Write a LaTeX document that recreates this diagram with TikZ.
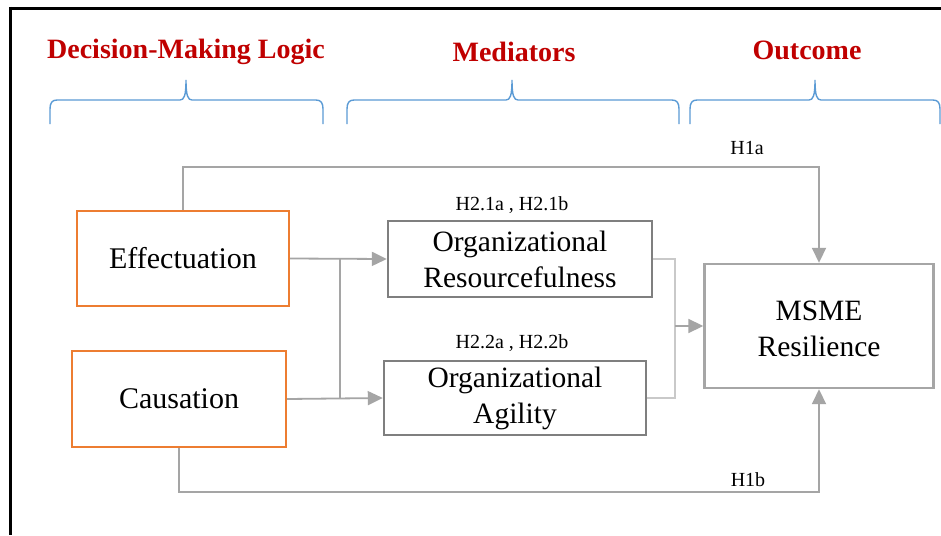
\documentclass[tikz,border=0pt]{standalone}
\usepackage{fontspec}
\setmainfont{Liberation Serif}
\usetikzlibrary{arrows.meta}
\definecolor{titlered}{HTML}{C00000}
\definecolor{braceblue}{HTML}{5B9BD5}
\definecolor{boxorange}{HTML}{ED7D31}
\definecolor{boxgray}{HTML}{7F7F7F}
\definecolor{outgray}{HTML}{A6A6A6}
\definecolor{linkgray}{HTML}{A5A5A5}
\definecolor{lightlink}{HTML}{C9C9C9}
\newcommand\groupbrace[3]{%
  \draw[bracestyle] (#1,124) -- (#1,109)
    .. controls (#1,103) and ({#1+2},100) .. ({#1+7},100)
    -- ({#3-6},100) .. controls ({#3-2},100) and (#3,96) .. (#3,80)
    .. controls (#3,96) and ({#3+2},100) .. ({#3+6},100)
    -- ({#2-7},100) .. controls ({#2-2},100) and (#2,103) .. (#2,109)
    -- (#2,124);}
\begin{document}
\begin{tikzpicture}[x=1pt,y=-1pt,
  title/.style={text=titlered,font=\fontsize{28}{30}\selectfont\bfseries},
  bracestyle/.style={draw=braceblue,line width=1.4pt},
  srcbox/.style={draw=boxorange,line width=2.4pt,fill=white,
    font=\fontsize{30}{36}\selectfont,inner sep=0pt},
  medbox/.style={draw=boxgray,line width=2.4pt,fill=white,align=center,
    font=\fontsize{29.5}{36}\selectfont,inner sep=0pt},
  outbox/.style={draw=outgray,line width=2.4pt,fill=white,inner sep=0pt},
  outtext/.style={align=center,font=\fontsize{29.5}{36}\selectfont,inner sep=0pt},
  hyp/.style={font=\fontsize{20}{22}\selectfont},
  link/.style={draw=linkgray,line width=1.8pt},
  faintlink/.style={draw=lightlink,line width=1.6pt},
  tip/.style={-{Triangle[length=15pt,width=14pt]}}]
\useasboundingbox (0,0) rectangle (941,535);
\fill[white] (0,0) rectangle (941,535);

% frame
\draw[line width=3pt] (9.5,8.5) -- (941,8.5);
\draw[line width=2.4pt] (10.5,7) -- (10.5,535);

% column headings and their braces
\node[title] (tdec) at (186,52) {Decision-Making Logic};
\node[title] (tmed) at (514,52) {Mediators};
\node[title] (tout) at (807,50) {Outcome};
\groupbrace{50}{323}{186}
\groupbrace{347}{679}{512}
\groupbrace{690}{940}{815}

% boxes
\node[srcbox,minimum width=212pt,minimum height=95pt] (eff) at (183,258.5) {Effectuation};
\node[srcbox,minimum width=214pt,minimum height=96pt] (cau) at (179,399) {Causation};
\node[medbox,minimum width=264pt,minimum height=76pt] (res) at (520,259) {Organizational\\Resourcefulness};
\node[medbox,minimum width=262pt,minimum height=74pt] (agi) at (515,398) {Organizational\\Agility};
\node[outbox,minimum width=229pt,minimum height=124pt] (msme) at (819,326) {};
\node[outtext] (msmetext) at (819,329) {MSME\\Resilience};

% hypothesis labels
\node[hyp] (l21) at (512,205) {H2.1a , H2.1b};
\node[hyp] (l22) at (512,343) {H2.2a , H2.2b};
\node[hyp] (l1a) at (747,148) {H1a};
\node[hyp] (l1b) at (748,480) {H1b};

% routing points
\coordinate (ja) at (340,258.5);
\coordinate (jb) at (340,399);
\coordinate (jc) at (675,259);
\coordinate (jd) at (675,398);
\coordinate (je) at (675,326);
\coordinate (up) at (819,167);
\coordinate (down) at (819,492);

% effectuation / causation to the mediators
\draw[link,tip] (eff.east) -- (res.west);
\draw[link,tip] (cau.east) -- (agi.west);
\draw[link] (ja) -- (jb);

% mediators to resilience
\draw[faintlink] (res.east) -- (jc) -- (jd) -- (agi.east);
\draw[link,tip] (je) -- (msme.west);

% direct paths
\draw[link,tip] (eff.north) |- (up) -- (msme.north);
\draw[link,tip] (cau.south) |- (down) -- (msme.south);
\end{tikzpicture}
\end{document}
